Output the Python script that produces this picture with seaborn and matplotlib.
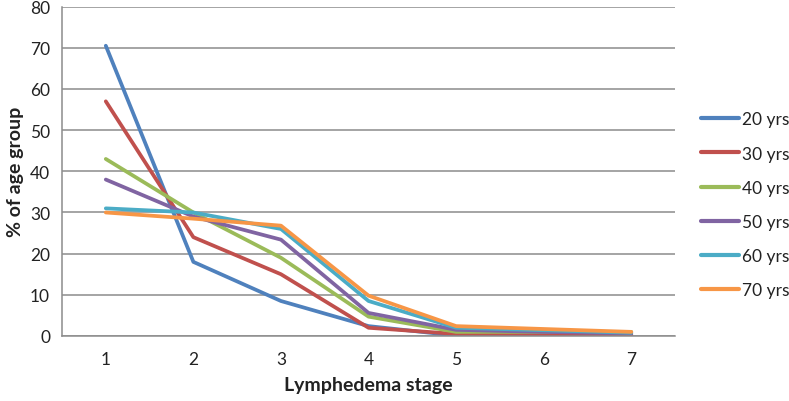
import pandas as pd
import numpy as np
import seaborn as sns
import matplotlib.pyplot as plt

# values (percent of each age group per stage)
stages = [1, 2, 3, 4, 5, 6, 7]
age_groups = ['20 yrs', '30 yrs', '40 yrs', '50 yrs', '60 yrs', '70 yrs']
yrs_20 = [70.5, 18.0, 8.5, 2.4, 0.1, 0.1, 0.1]
yrs_30 = [57.0, 24.0, 15.0, 2.0, 0.5, 0.4, 0.3]
yrs_40 = [43.0, 30.0, 19.0, 4.7, 1.0, 1.0, 1.0]
yrs_50 = [38.0, 29.0, 23.4, 5.6, 1.5, 1.0, 0.6]
yrs_60 = [31.0, 30.0, 26.0, 8.5, 2.0, 1.4, 0.8]
yrs_70 = [30.0, 28.5, 26.8, 9.8, 2.4, 1.7, 1.0]

colours = ['#4F81BD', '#C0504D', '#9BBB59', '#8064A2', '#4BACC6', '#F79646']

series = [yrs_20, yrs_30, yrs_40, yrs_50, yrs_60, yrs_70]
df = pd.concat([pd.DataFrame({'stage': stages, 'pct': vals, 'age': name})
                for name, vals in zip(age_groups, series)], ignore_index=True)

sns.set_style('white')
plt.rcParams['font.family'] = ['Lato', 'DejaVu Sans']

fig = plt.figure(figsize=(7.89, 4.02), dpi=100)
ax = fig.add_axes([0.0786, 0.1617, 0.777, 0.8193])

sns.lineplot(data=df, x='stage', y='pct', hue='age', palette=colours,
             linewidth=2.7, ax=ax, legend=True)

grid_col = '#8c8c8c'
text_col = '#222222'
ax.set_xlim(0.5, 7.5)
ax.set_ylim(0, 80)
ax.set_yticks(range(0, 81, 10))
ax.yaxis.grid(True, color=grid_col, linewidth=1.1)
ax.set_axisbelow(True)
ax.set_xticks(stages)
ax.set_xticks(np.arange(1.5, 8, 1), minor=True)
ax.tick_params(axis='x', which='major', length=0, labelsize=12.5, pad=11, labelcolor=text_col)
ax.tick_params(axis='x', which='minor', length=3.6, color=grid_col, width=1.1)
ax.tick_params(axis='y', which='major', length=3.6, color=grid_col, width=1.1,
               labelsize=12.5, pad=5, labelcolor=text_col)
for side in ['top', 'right']:
    ax.spines[side].set_visible(False)
for side in ['left', 'bottom']:
    ax.spines[side].set_color(grid_col)
    ax.spines[side].set_linewidth(1.1)

ax.set_xlabel('Lymphedema stage', fontsize=14, fontweight='bold', labelpad=6, color=text_col)
ax.set_ylabel('% of age group', fontsize=14, fontweight='bold', labelpad=4, color=text_col)

leg = ax.legend(loc='center left', bbox_to_anchor=(1.042, 0.398), frameon=False,
                fontsize=12.5, handlelength=2.2, handletextpad=0.15,
                labelspacing=1.05, borderaxespad=0, borderpad=0)
for line in leg.get_lines():
    line.set_linewidth(3)
for t in leg.get_texts():
    t.set_color(text_col)

fig.savefig('out.png', dpi=100)
